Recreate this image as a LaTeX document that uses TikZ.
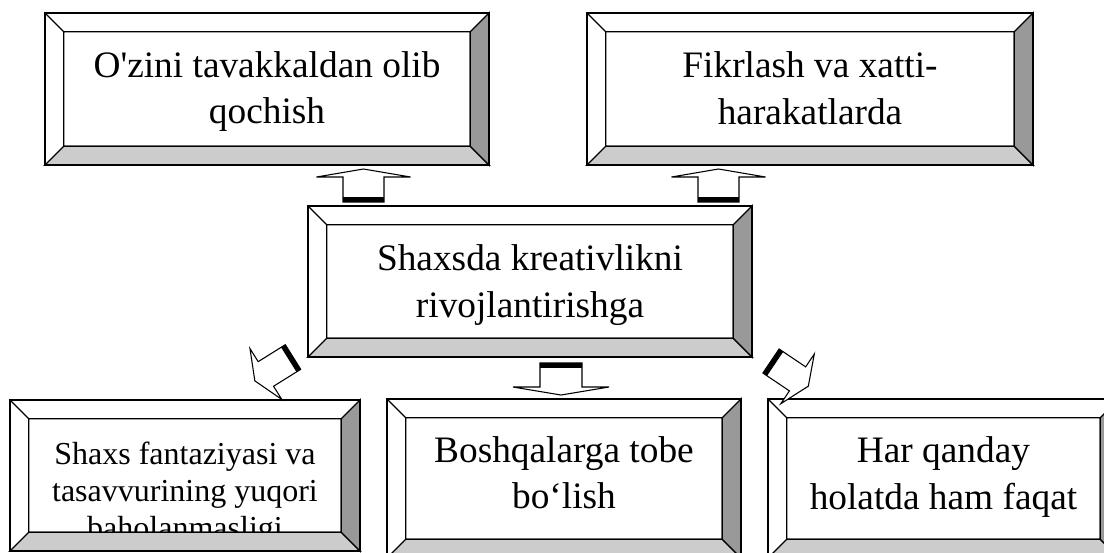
\documentclass[tikz,border=0pt]{standalone}
\usepackage{fontspec}
\newfontfamily\tnr{Liberation Serif}
\usetikzlibrary{fit}

\tikzset{
  panel/.style={fill=white, inner sep=0pt},
  caption/.style={anchor=north, inner sep=0pt, align=center, font=\tnr\fontsize{28}{35}\selectfont},
  smallcaption/.style={caption, font=\tnr\fontsize{24}{27.75}\selectfont},
  pics/blockarrow/.style n args={4}{code={
    \draw[fill=white, line width=0.8pt]
      (-#1,0) -- (-#1,-#2) -- (-#3,-#2) -- (0,-#2-#4) -- (#3,-#2) -- (#1,-#2) -- (#1,0) -- cycle;
    \fill (-#1,0) rectangle (#1,-5);
  }},
}

\begin{document}
\begin{tikzpicture}[x=0.75pt,y=-0.75pt]
    \useasboundingbox (0,0) rectangle (1104,553);
    \clip (0,0) rectangle (1104,553);

    %Cajas
    \node[panel, fit={(45,13) (489,165)}] (tl) {};
    \node[panel, fit={(587,13) (1033,165)}] (tr) {};
    \node[panel, fit={(308,206) (752,357)}] (ce) {};
    \node[panel, fit={(10,400) (360,551)}] (bl) {};
    \node[panel, fit={(387,399) (741,558)}] (bc) {};
    \node[panel, fit={(768,399) (1119,558)}] (br) {};

    %Textos
    \node[caption] (tltxt) at ([yshift=-23.5pt]tl.north) {\strut O'zini tavakkaldan olib\\\strut qochish};
    \node[caption] (trtxt) at ([yshift=-24pt]tr.north) {\strut Fikrlash va xatti-\\\strut harakatlarda};
    \node[caption] (cetxt) at ([yshift=-24pt]ce.north) {\strut Shaxsda kreativlikni\\\strut rivojlantirishga};
    \node[smallcaption] (bltxt) at ([yshift=-28.6pt]bl.north) {\strut Shaxs fantaziyasi va\\\strut tasavvurining yuqori\\\strut baholanmasligi};
    \node[caption] (bctxt) at ([yshift=-22.75pt]bc.north) {\strut Boshqalarga tobe\\\strut bo‘lish};
    \node[caption] (brtxt) at ([yshift=-23pt]br.north) {\strut Har qanday\\\strut holatda ham faqat};

    %Biseles
    \foreach \b in {tl,tr,ce,bl,bc,br}{
        \coordinate (i1) at ([shift={(19,19)}]\b.north west);
        \coordinate (i2) at ([shift={(-19,19)}]\b.north east);
        \coordinate (i3) at ([shift={(-19,-19)}]\b.south east);
        \coordinate (i4) at ([shift={(19,-19)}]\b.south west);
        \filldraw[fill=gray!40, line width=1pt] (\b.south west) -- (i4) -- (i3) -- (\b.south east) -- cycle;
        \filldraw[fill=black!40, line width=1pt] (\b.north east) -- (i2) -- (i3) -- (\b.south east) -- cycle;
        \draw[line width=1pt] (\b.north west) -- (i1) (i1) rectangle (i3);
        \draw[line width=1.5pt] (\b.north west) rectangle (\b.south east);
    }

    %Flechas
    \pic (upl) at (363.5,202) {blockarrow={20.5}{25}{47}{8}};
    \pic (upr) at (718.5,202) {blockarrow={20.5}{25}{47}{8}};
    \pic[rotate=180] (dnc) at (561,363) {blockarrow={21}{24}{48}{8}};
    \pic[rotate=122] (dnl) at (293,357) {blockarrow={14.5}{32}{30}{13}};
    \pic[rotate=-124] (dnr) at (771,361) {blockarrow={14.5}{32}{30}{13}};
\end{tikzpicture}
\end{document}
